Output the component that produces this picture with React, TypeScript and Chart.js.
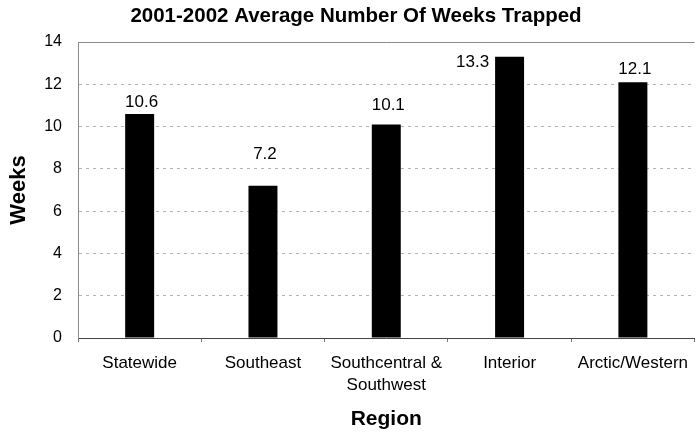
import React, { useEffect, useRef } from "react";
import { Chart, registerables } from "chart.js";

Chart.register(...registerables);

const TITLE = "2001-2002 Average Number Of Weeks Trapped";
const X_TITLE = "Region";
const Y_TITLE = "Weeks";
const categories: string[][] = [
  ["Statewide"],
  ["Southeast"],
  ["Southcentral &", "Southwest"],
  ["Interior"],
  ["Arctic/Western"],
];
const weeks: number[] = [10.6, 7.2, 10.1, 13.3, 12.1];
const Y_MIN = 0;
const Y_MAX = 14;
const Y_STEP = 2;

// label placement styling (pixels relative to the bar top, as in the original)
const labelDy = [-12, -31, -19, 6, -13];
const labelSide = ["top", "top", "top", "left", "top"];

const FONT = 'Arial, "Liberation Sans", Helvetica, sans-serif';

const decorPlugin = {
  id: "decor",
  afterDraw(chart: any) {
    const { ctx, chartArea } = chart;
    ctx.save();
    // top frame line
    ctx.strokeStyle = "#8a8a8a";
    ctx.lineWidth = 1;
    ctx.beginPath();
    ctx.moveTo(chartArea.left, Math.round(chartArea.top) + 0.5);
    ctx.lineTo(chartArea.right, Math.round(chartArea.top) + 0.5);
    ctx.stroke();
    // chart title
    ctx.fillStyle = "#000";
    ctx.font = `bold 20.5px ${FONT}`;
    ctx.textAlign = "center";
    ctx.textBaseline = "middle";
    ctx.fillText(TITLE, 356, 16);
    ctx.restore();
  },
  afterDatasetsDraw(chart: any) {
    const { ctx } = chart;
    const meta = chart.getDatasetMeta(0);
    const values = chart.data.datasets[0].data as number[];
    ctx.save();
    ctx.fillStyle = "#000";
    ctx.font = `17px ${FONT}`;
    ctx.textBaseline = "middle";
    meta.data.forEach((bar: any, i: number) => {
      const p = bar.getProps(["x", "y", "width"], true);
      const txt = values[i].toFixed(1);
      if (labelSide[i] === "left") {
        ctx.textAlign = "right";
        ctx.fillText(txt, p.x - p.width / 2 - 6, p.y + labelDy[i]);
      } else {
        ctx.textAlign = "center";
        ctx.fillText(txt, p.x + 2, p.y + labelDy[i]);
      }
    });
    ctx.restore();
  },
};

export default function App() {
  const ref = useRef<HTMLCanvasElement | null>(null);
  useEffect(() => {
    if (!ref.current) return;
    const chart = new Chart(ref.current, {
      type: "bar",
      data: {
        labels: categories,
        datasets: [
          {
            data: weeks,
            backgroundColor: "#000",
            borderWidth: 0,
            barPercentage: 0.235,
            categoryPercentage: 1,
          },
        ],
      },
      options: {
        responsive: false,
        animation: false,
        devicePixelRatio: 1,
        layout: { padding: { top: 42, left: 0, right: 0, bottom: 0 } },
        plugins: {
          legend: { display: false },
          tooltip: { enabled: false },
          title: { display: false },
        },
        scales: {
          x: {
            grid: {
              display: true,
              drawOnChartArea: false,
              drawTicks: true,
              tickLength: 4,
              color: "#777",
              offset: true,
            },
            border: { display: true, color: "#444", width: 1 },
            ticks: {
              color: "#000",
              font: { family: FONT, size: 17, lineHeight: "22px" },
              padding: 10,
              maxRotation: 0,
              autoSkip: false,
            },
            title: {
              display: true,
              text: X_TITLE,
              color: "#000",
              font: { family: FONT, size: 21, weight: "bold" },
              padding: { top: 0, bottom: 2 },
            },
            afterFit: (s: any) => {
              s.height = 96;
            },
          },
          y: {
            min: Y_MIN,
            max: Y_MAX,
            ticks: {
              stepSize: Y_STEP,
              color: "#000",
              font: { family: FONT, size: 16 },
              padding: 16,
            },
            grid: {
              drawTicks: false,
              lineWidth: 1,
              color: (c: any) =>
                c.tick && (c.tick.value === Y_MIN || c.tick.value === Y_MAX)
                  ? "rgba(0,0,0,0)"
                  : "#b4b4b4",
            },
            border: { display: true, color: "#8a8a8a", width: 1, dash: [3, 4] },
            title: {
              display: true,
              text: Y_TITLE,
              color: "#000",
              font: { family: FONT, size: 22, weight: "bold" },
              padding: { top: 6, bottom: 0 },
            },
            afterFit: (s: any) => {
              s.width = 78;
            },
          },
        },
      },
      plugins: [decorPlugin],
    } as any);
    return () => chart.destroy();
  }, []);
  return (
    <div
      style={{
        position: "fixed",
        left: 0,
        top: 0,
        width: 696,
        height: 434,
        overflow: "hidden",
        background: "#fff",
      }}
    >
      <canvas ref={ref} width={698} height={434} style={{ width: 698, height: 434, display: "block" }} />
    </div>
  );
}
